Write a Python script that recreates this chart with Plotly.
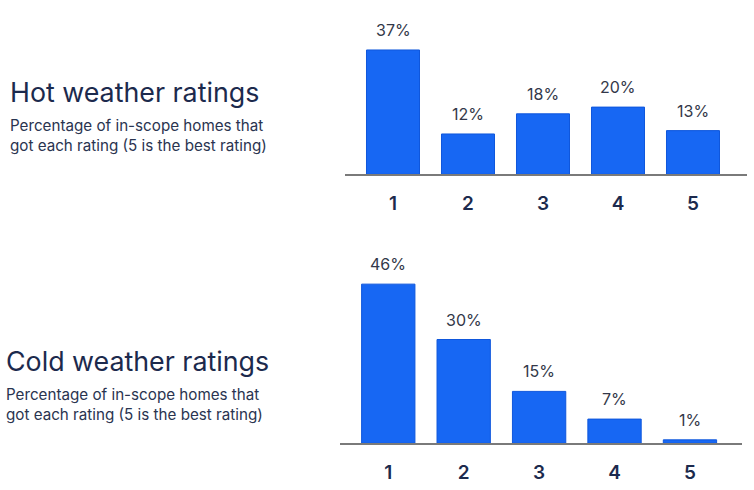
import plotly.graph_objects as go

ratings = [1, 2, 3, 4, 5]
rating_labels = ["1", "2", "3", "4", "5"]
hot_pct = [37, 12, 18, 20, 13]
cold_pct = [46, 30, 15, 7, 1]

hot_title = "Hot weather ratings"
cold_title = "Cold weather ratings"
subtitle = "Percentage of in-scope homes that<br>got each rating (5 is the best rating)"

W, H = 754, 490
FONT = "Inter"
NAVY = "#1c2a4d"
BAR = "#1767f3"
BAR_EDGE = "#0f57dc"

def py(p):
    return 1 - p / H

def px(p):
    return p / W

fig = go.Figure()
fig.add_trace(go.Bar(x=ratings, y=hot_pct, xaxis="x", yaxis="y",
                     marker=dict(color=BAR, line=dict(color=BAR_EDGE, width=1)),
                     width=0.707, hoverinfo="skip"))
fig.add_trace(go.Bar(x=ratings, y=cold_pct, xaxis="x2", yaxis="y2",
                     marker=dict(color=BAR, line=dict(color=BAR_EDGE, width=1)),
                     width=0.707, hoverinfo="skip"))

annotations = []
for xr, yr, vals in (("x", "y", hot_pct), ("x2", "y2", cold_pct)):
    for r, v in zip(ratings, vals):
        annotations.append(dict(x=r, y=v, xref=xr, yref=yr, text=f"{v}%",
                                showarrow=False, yanchor="middle", yshift=20,
                                font=dict(family=FONT, size=16, color="#333849")))

annotations += [
    dict(x=px(8), y=py(92), xref="paper", yref="paper", xanchor="left", yanchor="middle",
         text=hot_title, showarrow=False, font=dict(family=FONT, size=26.8, color=NAVY)),
    dict(x=px(8), y=py(135), xref="paper", yref="paper", xanchor="left", yanchor="middle",
         text=subtitle, showarrow=False, align="left",
         font=dict(family=FONT, size=15.2, color="#2a3450")),
    dict(x=px(4), y=py(361), xref="paper", yref="paper", xanchor="left", yanchor="middle",
         text=cold_title, showarrow=False, font=dict(family=FONT, size=26.8, color=NAVY)),
    dict(x=px(4), y=py(404), xref="paper", yref="paper", xanchor="left", yanchor="middle",
         text=subtitle, showarrow=False, align="left",
         font=dict(family=FONT, size=15.2, color="#2a3450")),
]

xaxis_common = dict(tickmode="array", tickvals=ratings, ticktext=rating_labels,
                    showgrid=False, zeroline=False, showline=True, linecolor="#7a7a7a",
                    linewidth=1.5, ticks="", ticklabelstandoff=11,
                    tickfont=dict(family=FONT, size=19, color=NAVY, weight=600),
                    fixedrange=True)
yaxis_common = dict(visible=False, showgrid=False, zeroline=False, fixedrange=True)

fig.update_layout(
    width=W, height=H, margin=dict(l=0, r=0, t=0, b=0),
    paper_bgcolor="white", plot_bgcolor="white", showlegend=False,
    xaxis=dict(domain=[px(345), px(747)], range=[0.36, 5.72], anchor="y", **xaxis_common),
    yaxis=dict(domain=[py(174.3), py(10)], range=[0, (174.3 - 10) / 3.36], anchor="x", **yaxis_common),
    xaxis2=dict(domain=[px(340), px(742)], range=[0.36, 5.69], anchor="y2", **xaxis_common),
    yaxis2=dict(domain=[py(443.3), py(250)], range=[0, (443.3 - 250) / 3.46], anchor="x2", **yaxis_common),
    annotations=annotations,
)

fig.write_html("out.html")
